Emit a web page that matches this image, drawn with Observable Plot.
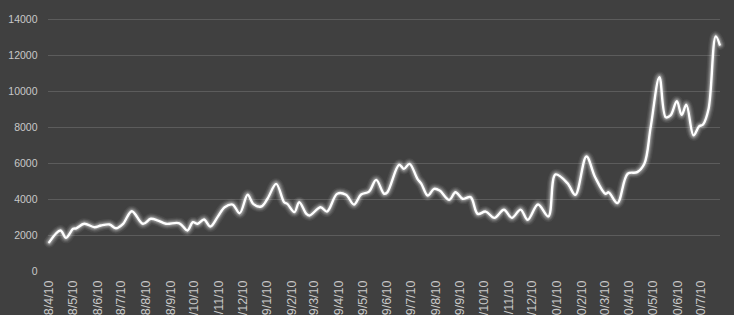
<!DOCTYPE html>
<html>
<head>
<meta charset="utf-8">
<script src="https://cdn.jsdelivr.net/npm/d3@7"></script>
<script src="https://cdn.jsdelivr.net/npm/@observablehq/plot@0.6"></script>
<style>
  html, body { margin: 0; padding: 0; background: #404040; overflow: hidden; }
  #chart svg { display: block; }
</style>
</head>
<body>
<div id="chart"></div>
<script>
const dates = [
  "2018-04-10","2018-04-24","2018-05-01","2018-05-10","2018-05-14","2018-05-24","2018-06-06","2018-06-14",
  "2018-06-25","2018-07-03","2018-07-12","2018-07-23","2018-08-06","2018-08-16","2018-08-25","2018-09-04",
  "2018-09-21","2018-10-01","2018-10-08","2018-10-14","2018-10-22","2018-10-30","2018-11-08","2018-11-17",
  "2018-11-27","2018-12-06","2018-12-16","2018-12-23","2019-01-02","2019-01-10","2019-01-21","2019-01-31",
  "2019-02-04","2019-02-13","2019-02-19","2019-02-28","2019-03-04","2019-03-18","2019-03-26","2019-04-08",
  "2019-04-19","2019-04-29","2019-05-08","2019-05-18","2019-05-27","2019-06-06","2019-06-10","2019-06-25",
  "2019-07-01","2019-07-08","2019-07-18","2019-07-23","2019-07-31","2019-08-08","2019-08-15","2019-08-27",
  "2019-09-04","2019-09-13","2019-09-23","2019-10-02","2019-10-12","2019-10-23","2019-11-04","2019-11-14",
  "2019-11-25","2019-12-04","2019-12-17","2019-12-30","2020-01-08","2020-01-23","2020-02-02","2020-02-16",
  "2020-02-27","2020-03-11","2020-03-15","2020-03-26","2020-04-08","2020-04-20","2020-04-29","2020-05-07",
  "2020-05-18","2020-05-26","2020-06-01","2020-06-09","2020-06-15","2020-06-21","2020-06-30","2020-07-07",
  "2020-07-12","2020-07-19","2020-07-28","2020-08-02"
];
const values = [
  1630, 2280, 1870, 2370, 2400, 2650, 2460, 2555,
  2610, 2400, 2650, 3350, 2650, 2930, 2830, 2650,
  2680, 2280, 2740, 2650, 2890, 2500, 3020, 3570,
  3720, 3240, 4260, 3760, 3610, 4040, 4870, 3850,
  3760, 3300, 3850, 3200, 3110, 3570, 3330, 4320,
  4260, 3720, 4280, 4440, 5090, 4320, 4400, 5930,
  5700, 5980, 5150, 4870, 4220, 4590, 4500, 3980,
  4400, 4040, 4130, 3200, 3330, 2980, 3430, 2980,
  3440, 2870, 3720, 3060, 5390, 4910, 4260, 6390,
  5240, 4320, 4400, 3800, 5430, 5520, 5980, 8020,
  10800, 8570, 8670, 9460, 8700, 9260, 7560, 8060,
  8170, 9040, 13060, 12610
];
const yTicks = [0, 2000, 4000, 6000, 8000, 10000, 12000, 14000];
const xTickLabels = [
  "2018/4/10","2018/5/10","2018/6/10","2018/7/10","2018/8/10","2018/9/10","2018/10/10","2018/11/10","2018/12/10",
  "2019/1/10","2019/2/10","2019/3/10","2019/4/10","2019/5/10","2019/6/10","2019/7/10","2019/8/10","2019/9/10",
  "2019/10/10","2019/11/10","2019/12/10","2020/1/10","2020/2/10","2020/3/10","2020/4/10","2020/5/10","2020/6/10","2020/7/10"
];

const parseLabel = d3.utcParse("%Y/%m/%d");
const fmt = d3.utcFormat("%Y/%-m/%-d");
const tickDates = xTickLabels.map(parseLabel);
const data = dates.map((d, i) => ({date: d3.utcParse("%Y-%m-%d")(d), value: values[i]}));

// layered translucent strokes give the soft glow around the line
const glowLayers = [[11, 0.06], [8.5, 0.09], [6.5, 0.13], [4.5, 0.2]];
const lineOpts = {x: "date", y: "value", curve: "catmull-rom", stroke: "#ffffff"};

const chart = Plot.plot({
  width: 734,
  height: 315,
  marginLeft: 48,
  marginRight: 14,
  marginTop: 19,
  marginBottom: 44,
  style: {background: "#404040", color: "#c8c8c8", fontFamily: "'Liberation Sans', Arial, sans-serif", fontSize: "10.5px", overflow: "hidden"},
  x: {type: "utc", domain: [new Date(Date.UTC(2018, 3, 9)), new Date(Date.UTC(2020, 7, 3))],
      ticks: tickDates, tickFormat: fmt, tickRotate: -90, tickSize: 0, tickPadding: 9, label: null},
  y: {domain: [0, 14000], ticks: yTicks, tickFormat: d => String(d), tickSize: 0, tickPadding: 11, label: null},
  marks: [
    Plot.ruleY(yTicks.filter(v => v > 0), {stroke: "#5c5c5c", strokeWidth: 1}),
    ...glowLayers.map(([w, o]) => Plot.lineY(data, {...lineOpts, strokeWidth: w, strokeOpacity: o})),
    Plot.lineY(data, {...lineOpts, strokeWidth: 2.4})
  ]
});

// larger x-axis date labels, as in the reference
chart.querySelectorAll('g[aria-label^="x-axis"]').forEach(g => {
  g.setAttribute("font-size", "12.5px");
  g.querySelectorAll("text").forEach(t => t.setAttribute("font-size", "12.5px"));
});

document.getElementById("chart").appendChild(chart);
</script>
</body>
</html>
